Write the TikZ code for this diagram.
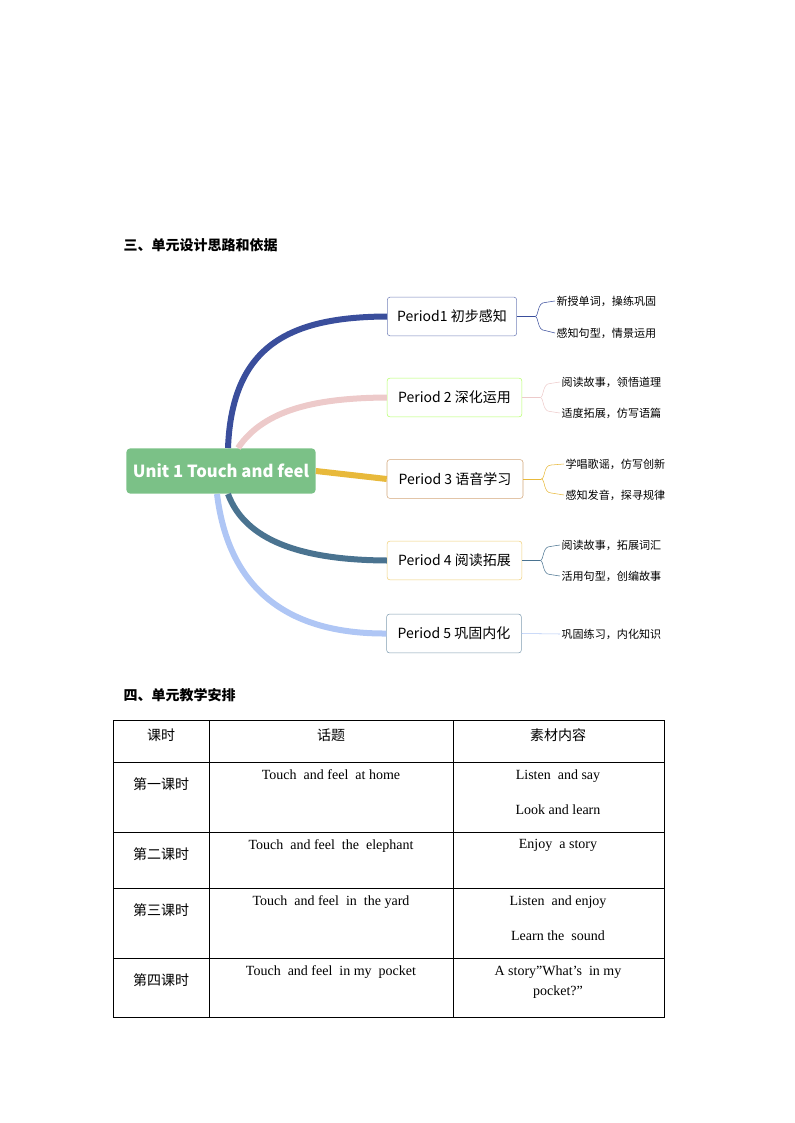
\documentclass[tikz,border=0pt]{standalone}
\usepackage{fontspec}
\setmainfont{Liberation Serif}
\newfontfamily\cjk{Noto Sans CJK SC}
\usetikzlibrary{positioning}
\definecolor{unitgreen}{HTML}{7BC187}
\definecolor{pone}{HTML}{3A4E9C}
\definecolor{ptwo}{HTML}{EDCACA}
\definecolor{pthree}{HTML}{E8B93B}
\definecolor{pfour}{HTML}{4A7390}
\definecolor{pfive}{HTML}{AFC6F5}
\tikzset{
    period/.style={
           rectangle,
           rounded corners=2pt,
           draw, thin,
           minimum height=29pt,
           inner sep=2pt,
           text centered,
           font=\cjk\fontsize{10.5}{12}\selectfont,
           },
    leaf/.style={anchor=west, inner sep=1pt, font=\cjk\fontsize{8.3}{10}\selectfont},
    branch/.style={line width=4.5pt},
    cell/.style={anchor=north, align=center, font=\fontsize{10.5}{17}\selectfont},
    lesson/.style={font=\cjk\fontsize{10.5}{12}\selectfont},
}
\begin{document}
\begin{tikzpicture}[x=0.75pt,y=-0.75pt]
    \useasboundingbox (0,0) rectangle (794,1123);

    \node[anchor=west, font=\cjk\bfseries\fontsize{10.5}{12}\selectfont] (head1) at (119,245) {三、单元设计思路和依据};
    \node[anchor=west, font=\cjk\bfseries\fontsize{10.5}{12}\selectfont] (head2) at (119,695) {四、单元教学安排};

    % mind map
    \node[rectangle, rounded corners=3pt, fill=unitgreen, text=white, minimum width=142pt, minimum height=34pt,
          font=\cjk\bfseries\fontsize{12.5}{14}\selectfont] (unit) at (221,471) {Unit 1 Touch and feel};

    \node[period, draw=pone!70, minimum width=97pt]  (P1) at (452,316.5) {Period1 初步感知};
    \node[period, draw=green!50!yellow!60, minimum width=101pt] (P2) at (454.5,397.5) {Period 2 深化运用};
    \node[period, draw=brown!70, minimum width=102pt] (P3) at (455,479) {Period 3 语音学习};
    \node[period, draw=pthree!70, minimum width=101pt] (P4) at (454.5,560.5) {Period 4 阅读拓展};
    \node[period, draw=pfour!70, minimum width=101pt] (P5) at (454,633.5) {Period 5 巩固内化};

    \coordinate (u1) at (228,448);
    \coordinate (u2) at (238,448);
    \coordinate (u4) at (228,494);
    \coordinate (u5) at (217,494);
    \draw[branch, pone] (u1) .. controls (232,345) and (290,317) .. (P1.west);
    \draw[branch, ptwo] (u2) .. controls (265,408) and (320,398) .. (P2.west);
    \draw[branch, pthree] (unit.east) -- (P3.west);
    \draw[branch, pfour] (u4) .. controls (245,540) and (300,560) .. (P4.west);
    \draw[branch, pfive] (u5) .. controls (230,600) and (300,634) .. (P5.west);

    % leaves
    \node[leaf] (L1a) at (555,301) {新授单词，操练巩固};
    \node[leaf] (L1b) at (555,333) {感知句型，情景运用};
    \node[leaf] (L2a) at (560,382) {阅读故事，领悟道理};
    \node[leaf] (L2b) at (560,413) {适度拓展，仿写语篇};
    \node[leaf] (L3a) at (564,464) {学唱歌谣，仿写创新};
    \node[leaf] (L3b) at (564,495) {感知发音，探寻规律};
    \node[leaf] (L4a) at (560,545) {阅读故事，拓展词汇};
    \node[leaf] (L4b) at (560,576) {活用句型，创编故事};
    \node[leaf] (L5)  at (560,634) {巩固练习，内化知识};

    \foreach \p/\a/\b/\c in {P1/L1a/L1b/pone, P2/L2a/L2b/ptwo, P3/L3a/L3b/pthree, P4/L4a/L4b/pfour}{
        \draw[\c, thin] (\p.east) -- ++(18,0) coordinate (\p k);
        \draw[\c, thin] (\p k) .. controls +(4,0) and +(-8,0) .. ++(10,-14) -- (\a.west);
        \draw[\c, thin] (\p k) .. controls +(4,0) and +(-8,0) .. ++(10,14) -- (\b.west);
    }
    \draw[pfive, thin] (P5.east) -- (L5.west);

    % table
    \draw[thin] (113,720) rectangle (664,1017);
    \foreach \y in {762,832,888,958} \draw[thin] (113,\y) -- (664,\y);
    \foreach \x in {209,453} \draw[thin] (\x,720) -- (\x,1017);

    \node[lesson] (h1) at (161,735) {课时};
    \node[lesson] (h2) at (331,735) {话题};
    \node[lesson] (h3) at (558,735) {素材内容};
    \node[lesson] (k1) at (161,784) {第一课时};
    \node[lesson] (k2) at (161,854) {第二课时};
    \node[lesson] (k3) at (161,910) {第三课时};
    \node[lesson] (k4) at (161,980) {第四课时};

    \node[cell] (t1) at (331,765) {Touch\ \ and feel\ \ at home};
    \node[cell] (t2) at (331,835) {Touch\ \ and feel\ \ the\ \ elephant};
    \node[cell] (t3) at (331,891) {Touch\ \ and feel\ \ in\ \ the yard};
    \node[cell] (t4) at (331,961) {Touch\ \ and feel\ \ in\ my\ \ pocket};

    \node[cell, font=\fontsize{10.5}{26}\selectfont] (m1) at (558,765) {Listen\ \ and say\\Look and learn};
    \node[cell] (m2) at (558,835) {Enjoy\ \ a story};
    \node[cell, font=\fontsize{10.5}{26}\selectfont] (m3) at (558,891) {Listen\ \ and enjoy\\Learn the\ \ sound};
    \node[cell, font=\fontsize{10.5}{15}\selectfont] (m4) at (558,961) {A story”What’s\ \ in my\\pocket?”};
\end{tikzpicture}
\end{document}
